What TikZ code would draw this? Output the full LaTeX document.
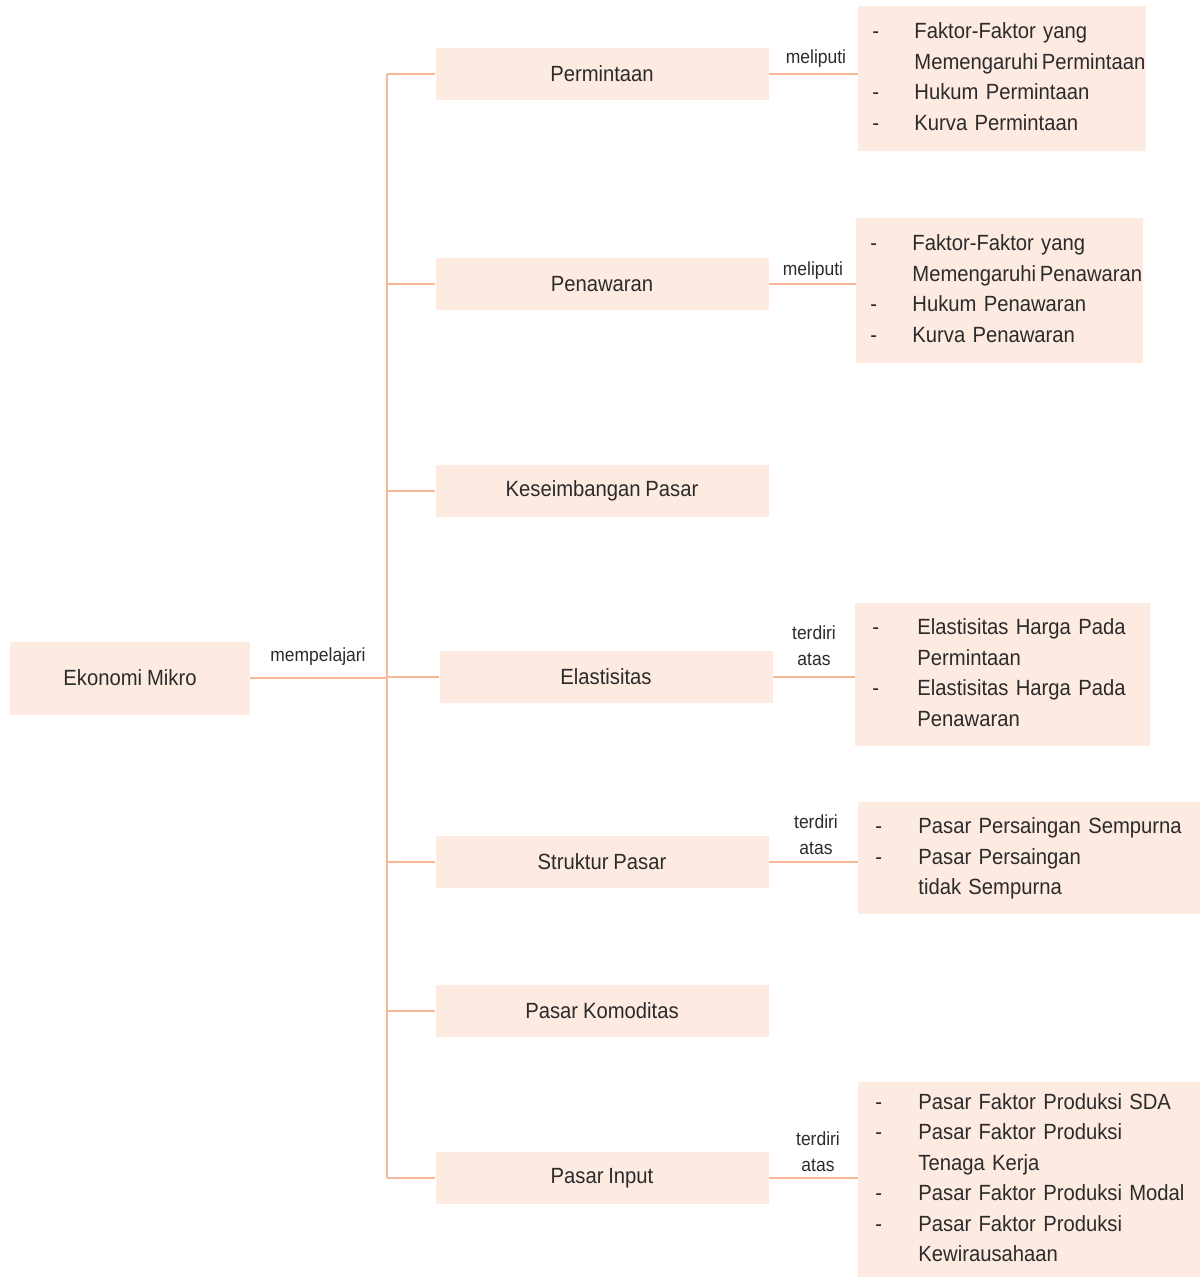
\documentclass[tikz,border=0pt]{standalone}
\usepackage{fontspec}
\setmainfont{Liberation Sans}[FakeStretch=0.92]
\usetikzlibrary{calc}
\definecolor{peach}{HTML}{FDEAE1}
\definecolor{salmon}{HTML}{F8B898}
\definecolor{ink}{HTML}{2B2B2B}
\newcommand{\dashrow}[1]{-&#1\\}
\newcommand{\controw}[1]{&#1\\}
\newcommand{\tightsp}{\spaceskip=0.22em plus 0.05em\relax}
\begin{document}
\begin{tikzpicture}[x=0.5pt, y=-0.5pt,
    box/.style={fill=peach, text=ink, font=\fontsize{11}{13}\selectfont\tightsp, inner sep=0pt},
    midbox/.style={box, minimum width=166.5pt, minimum height=26pt},
    listbox/.style={box, anchor=west, inner xsep=7pt, align=left,
      font=\fontsize{11}{15.25}\selectfont\tightsp},
    link/.style={draw=salmon, line width=1.1pt},
    tag/.style={text=ink, font=\fontsize{9.5}{13}\selectfont, align=center, inner sep=0pt}]
    \useasboundingbox (0,0) rectangle (1200,1277);
    % root
    \node[box, minimum width=120pt, minimum height=36.5pt] (eko) at (130,678) {Ekonomi Mikro};
    % topics
    \node[midbox] (perm) at (602,74) {Permintaan};
    \node[midbox] (pen) at (602,284) {Penawaran};
    \node[midbox] (kes) at (602,491) {Keseimbangan Pasar};
    \node[midbox] (elas) at (606,677) {Elastisitas};
    \node[midbox] (struk) at (602,862) {Struktur Pasar};
    \node[midbox] (kom) at (602,1011) {Pasar Komoditas};
    \node[midbox] (inp) at (602,1178) {Pasar Input};
    % details
    \node[listbox, minimum width=144pt, minimum height=72.5pt, text width=130pt] (perml) at (858,78.5)
      {\begin{tabular}{@{}p{21pt}@{}l@{}}
        \dashrow{Faktor-Faktor yang}
        \controw{Memengaruhi\,Permintaan}
        \dashrow{Hukum Permintaan}
        \dashrow{Kurva Permintaan}
      \end{tabular}};
    \node[listbox, minimum width=143.5pt, minimum height=72.5pt, text width=129.5pt] (penl) at (856,290.5)
      {\begin{tabular}{@{}p{21pt}@{}l@{}}
        \dashrow{Faktor-Faktor yang}
        \controw{Memengaruhi\,Penawaran}
        \dashrow{Hukum Penawaran}
        \dashrow{Kurva Penawaran}
      \end{tabular}};
    \node[listbox, inner xsep=8.5pt, minimum width=147.5pt, minimum height=71.5pt, text width=130.5pt] (elasl) at (855,674.5)
      {\begin{tabular}{@{}p{22.5pt}@{}l@{}}
        \dashrow{Elastisitas Harga Pada}
        \controw{Permintaan}
        \dashrow{Elastisitas Harga Pada}
        \controw{Penawaran}
      \end{tabular}};
    \node[listbox, inner xsep=8.5pt, minimum width=171pt, minimum height=56pt, text width=154pt] (strukl) at (858,858)
      {\begin{tabular}{@{}p{21.5pt}@{}l@{}}
        \dashrow{Pasar Persaingan Sempurna}
        \dashrow{Pasar Persaingan}
        \controw{tidak Sempurna}
      \end{tabular}};
    \node[listbox, inner xsep=8.5pt, minimum width=171pt, minimum height=97.5pt, text width=154pt] (inpl) at (858,1179.5)
      {\begin{tabular}{@{}p{21.5pt}@{}l@{}}
        \dashrow{Pasar Faktor Produksi SDA}
        \dashrow{Pasar Faktor Produksi}
        \controw{Tenaga Kerja}
        \dashrow{Pasar Faktor Produksi Modal}
        \dashrow{Pasar Faktor Produksi}
        \controw{Kewirausahaan}
      \end{tabular}};
    % trunk
    \coordinate (top) at (387,74);
    \coordinate (bot) at (387,1178);
    \draw[link] (top) -- (bot);
    \draw[link] (eko.east) -- (eko.east -| top);
    \foreach \n in {perm,pen,kes,elas,struk,kom,inp}
      \draw[link] (\n.west -| top) -- (\n.west);
    % branches
    \draw[link] (perm.east) -- (perm.east -| perml.west);
    \draw[link] (pen.east) -- (pen.east -| penl.west);
    \draw[link] (elas.east) -- (elas.east -| elasl.west);
    \draw[link] (struk.east) -- (struk.east -| strukl.west);
    \draw[link] (inp.east) -- (inp.east -| inpl.west);
    % labels
    \node[tag] (lmp) at (318,657) {mempelajari};
    \node[tag] (lm1) at (816,59) {meliputi};
    \node[tag] (lm2) at (813,271) {meliputi};
    \node[tag] (lt1) at (814,646) {terdiri\\atas};
    \node[tag] (lt2) at (816,835) {terdiri\\atas};
    \node[tag] (lt3) at (818,1152) {terdiri\\atas};
\end{tikzpicture}
\end{document}
